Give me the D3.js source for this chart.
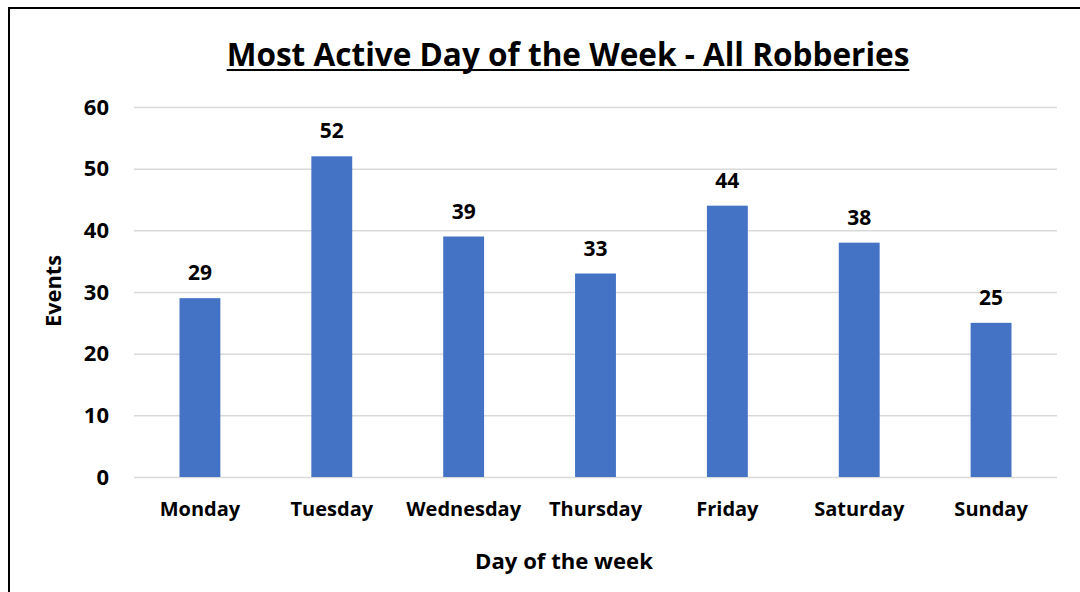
<!DOCTYPE html>
<html>
<head>
<meta charset="utf-8">
<script src="https://cdn.jsdelivr.net/npm/d3@7"></script>
<style>
  body { margin: 0; background: #fff; }
  text { font-family: "Open Sans", "Noto Sans", sans-serif; font-weight: bold; fill: #000; }
</style>
</head>
<body>
<div id="vis_container"></div>
<script>
// chart data
var days = ["Monday", "Tuesday", "Wednesday", "Thursday", "Friday", "Saturday", "Sunday"];
var events = [29, 52, 39, 33, 44, 38, 25];
var yTicks = [0, 10, 20, 30, 40, 50, 60];

var chart = {};
chart.width = 1080;
chart.height = 592;
chart.margin = {top: 107, left: 134, right: 23, bottom: 115};

chart.svg = d3.select("#vis_container").append("svg")
	.attr("width", chart.width)
	.attr("height", chart.height);

// frame (left and top edges only are visible)
chart.svg.append("line")
	.attr("x1", 9).attr("x2", 9).attr("y1", 8).attr("y2", chart.height)
	.attr("stroke", "#000").attr("stroke-width", 2);
chart.svg.append("line")
	.attr("x1", 8).attr("x2", chart.width).attr("y1", 8).attr("y2", 8)
	.attr("stroke", "#000").attr("stroke-width", 2);

chart.xScale = d3.scaleBand()
	.domain(days)
	.range([chart.margin.left, chart.width - chart.margin.right])
	.paddingInner(0.69)
	.paddingOuter(0.345);

chart.yScale = d3.scaleLinear()
	.domain([0, 60])
	.range([chart.height - chart.margin.bottom, chart.margin.top]);

// gridlines + y labels
var yAxis = d3.axisLeft(chart.yScale)
	.tickValues(yTicks)
	.tickSize(-(chart.width - chart.margin.left - chart.margin.right))
	.tickPadding(25);

var gy = chart.svg.append("g")
	.attr("transform", "translate(" + chart.margin.left + ",0)")
	.call(yAxis);
gy.select(".domain").remove();
gy.selectAll(".tick line").attr("stroke", "#d9d9d9").attr("stroke-width", 1.5);
gy.selectAll(".tick text")
	.style("font-size", "22px")
	.style("font-family", "'Open Sans', sans-serif")
	.style("font-weight", "bold")
	.attr("fill", "#000");

// bars
chart.svg.selectAll(".bar")
	.data(events)
	.enter().append("rect")
	.attr("class", "bar")
	.attr("x", function(d, i) { return chart.xScale(days[i]); })
	.attr("y", function(d) { return chart.yScale(d); })
	.attr("width", chart.xScale.bandwidth())
	.attr("height", function(d) { return chart.yScale(0) - chart.yScale(d); })
	.attr("fill", "#4472C4");

// value labels
chart.svg.selectAll(".val")
	.data(events)
	.enter().append("text")
	.attr("class", "val")
	.attr("x", function(d, i) { return chart.xScale(days[i]) + chart.xScale.bandwidth() / 2; })
	.attr("y", function(d) { return chart.yScale(d) - 18; })
	.attr("text-anchor", "middle")
	.style("font-size", "21px")
	.text(function(d) { return d; });

// x category labels
var gx = chart.svg.append("g")
	.attr("transform", "translate(0," + chart.yScale(0) + ")")
	.call(d3.axisBottom(chart.xScale).tickSize(0).tickPadding(25));
gx.select(".domain").remove();
gx.selectAll(".tick text")
	.style("font-size", "20px")
	.style("font-family", "'Open Sans', sans-serif")
	.style("font-weight", "bold")
	.attr("fill", "#000");

// size a text so it spans the given width
function fitText(sel, width) {
	var w = sel.node().getComputedTextLength();
	sel.style("font-size", (20 * width / w) + "px");
	return sel.node().getComputedTextLength();
}

// axis titles
var xTitle = chart.svg.append("text")
	.attr("x", 564).attr("y", 569)
	.attr("text-anchor", "middle")
	.style("font-size", "20px")
	.text("Day of the week");
fitText(xTitle, 178);

var yTitle = chart.svg.append("text")
	.attr("transform", "translate(61,291) rotate(-90)")
	.attr("text-anchor", "middle")
	.style("font-size", "20px")
	.text("Events");
fitText(yTitle, 72);

// title, sized to the width used in the original
var title = chart.svg.append("text")
	.attr("x", 568).attr("y", 66)
	.attr("text-anchor", "middle")
	.style("font-size", "20px")
	.text("Most Active Day of the Week - All Robberies");
var tw = fitText(title, 683);
chart.svg.append("line")
	.attr("x1", 568 - tw / 2).attr("x2", 568 + tw / 2)
	.attr("y1", 70).attr("y2", 70)
	.attr("stroke", "#000").attr("stroke-width", 2);
</script>
</body>
</html>
